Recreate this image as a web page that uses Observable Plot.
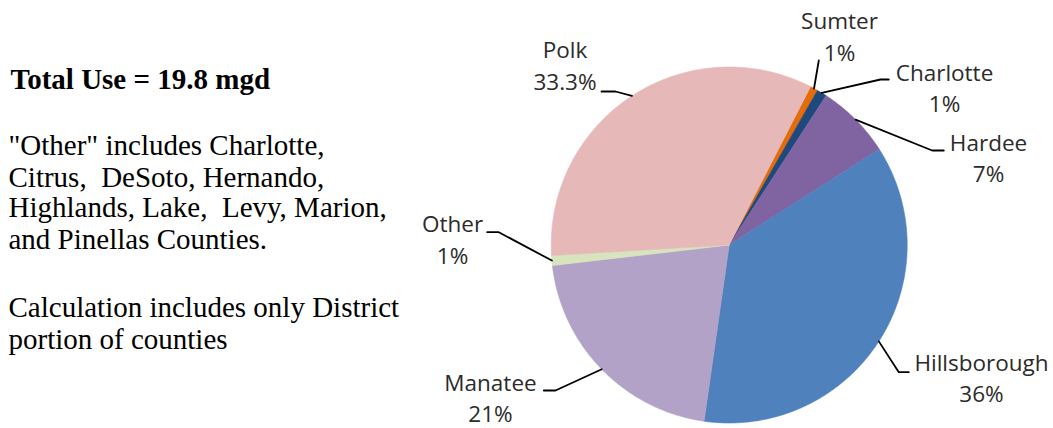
<!DOCTYPE html>
<html>
<head>
<meta charset="utf-8">
<script src="https://cdn.jsdelivr.net/npm/d3@7"></script>
<script src="https://cdn.jsdelivr.net/npm/@observablehq/plot@0.6"></script>
<style>
  body { margin: 0; background: #fff; }
  #chart svg { display: block; }
</style>
</head>
<body>
<div id="chart"></div>
<script>
// ---------- data ----------
const counties = ["Sumter", "Charlotte", "Hardee", "Hillsborough", "Manatee", "Other", "Polk"];
const shares = [0.7, 0.9, 6.8, 36.3, 20.9, 0.9, 33.5];          // % of total use
const pctLabels = ["1%", "1%", "7%", "36%", "21%", "1%", "33.3%"];
const sliceColors = ["#E46C0A", "#1F497D", "#8064A2", "#4F81BD", "#B3A2C7", "#D7E4BD", "#E6B9B8"];
const noteTitle = "Total Use = 19.8 mgd";
const noteLines = [
  "\"Other\" includes Charlotte,",
  "Citrus,  DeSoto, Hernando,",
  "Highlands, Lake,  Levy, Marion,",
  "and Pinellas Counties.",
  "Calculation includes only District",
  "portion of counties"
];

// ---------- layout ----------
const W = 1053, H = 428;
const cx = 728.7, cy = 244.5, R = 178, startDeg = 27.2;
const labelAt = [[839, 60], [944, 111.7], [988, 181.7], [981, 401.7], [490, 421.7], [452, 263.3], [564.5, 89.3]];
const leaderBends = [
  [[818.3, 60]],
  [[880, 79], [888.3, 79]],
  [[931.7, 150], [943.3, 150]],
  [[898.3, 371.7], [908.3, 371.7]],
  [[555, 390], [543.3, 390]],
  [[498.3, 231.7], [486.7, 231.7]],
  [[615, 91], [601, 91]]
];
const titleAt = [10, 88];
const noteX = 8;
const noteBaselines = [154.3, 186, 216.7, 248.3, 316.7, 348.3];

// ---------- build ----------
const rows = counties.map((c, i) => ({county: c, share: shares[i], pct: pctLabels[i]}));
const a0 = startDeg * Math.PI / 180;
const arcs = d3.pie().sort(null).value(d => d.share).startAngle(a0).endAngle(a0 + 2 * Math.PI)(rows);
const px = a => cx + R * Math.sin(a);
const py = a => cy - R * Math.cos(a);

const slicePts = arcs.flatMap(a => {
  const n = Math.max(2, Math.ceil((a.endAngle - a.startAngle) / (Math.PI / 360)));
  const pts = [{county: a.data.county, x: cx, y: cy}];
  for (let i = 0; i <= n; i++) {
    const ang = a.startAngle + (a.endAngle - a.startAngle) * i / n;
    pts.push({county: a.data.county, x: px(ang), y: py(ang)});
  }
  pts.push({county: a.data.county, x: cx, y: cy});
  return pts;
});

const leaderPts = arcs.flatMap((a, i) => {
  const mid = (a.startAngle + a.endAngle) / 2;
  return [{county: a.data.county, x: px(mid), y: py(mid)},
          ...leaderBends[i].map(([x, y]) => ({county: a.data.county, x, y}))];
});

const labelRows = arcs.map((a, i) => ({
  text: a.data.county + "\n" + a.data.pct, x: labelAt[i][0], y: labelAt[i][1]
}));
const noteRows = noteLines.map((t, i) => ({text: t, x: noteX, y: noteBaselines[i]}));

const chart = Plot.plot({
  width: W, height: H, margin: 0,
  x: {domain: [0, W], range: [0, W], axis: null},
  y: {domain: [0, H], range: [0, H], axis: null},
  color: {domain: counties, range: sliceColors},
  style: {background: "#fff", overflow: "visible"},
  marks: [
    Plot.line(slicePts, {x: "x", y: "y", z: "county", fill: "county", stroke: "county", strokeWidth: 0.6}),
    Plot.line(leaderPts, {x: "x", y: "y", z: "county", stroke: "#000", strokeWidth: 1.8}),
    Plot.text(labelRows, {x: "x", y: "y", text: "text", textAnchor: "middle", lineAnchor: "bottom",
      lineHeight: 1.4, fontSize: 22.5, fontFamily: "Open Sans", fill: "#2b2b2b"}),
    Plot.text([noteTitle], {x: () => titleAt[0], y: () => titleAt[1], text: d => d, textAnchor: "start",
      lineAnchor: "bottom", fontSize: 29, fontWeight: "bold", fontFamily: "Liberation Serif", fill: "#000"}),
    Plot.text(noteRows, {x: "x", y: "y", text: "text", textAnchor: "start", lineAnchor: "bottom",
      fontSize: 29, fontFamily: "Liberation Serif", fill: "#000"})
  ]
});
document.getElementById("chart").appendChild(chart);
</script>
</body>
</html>
